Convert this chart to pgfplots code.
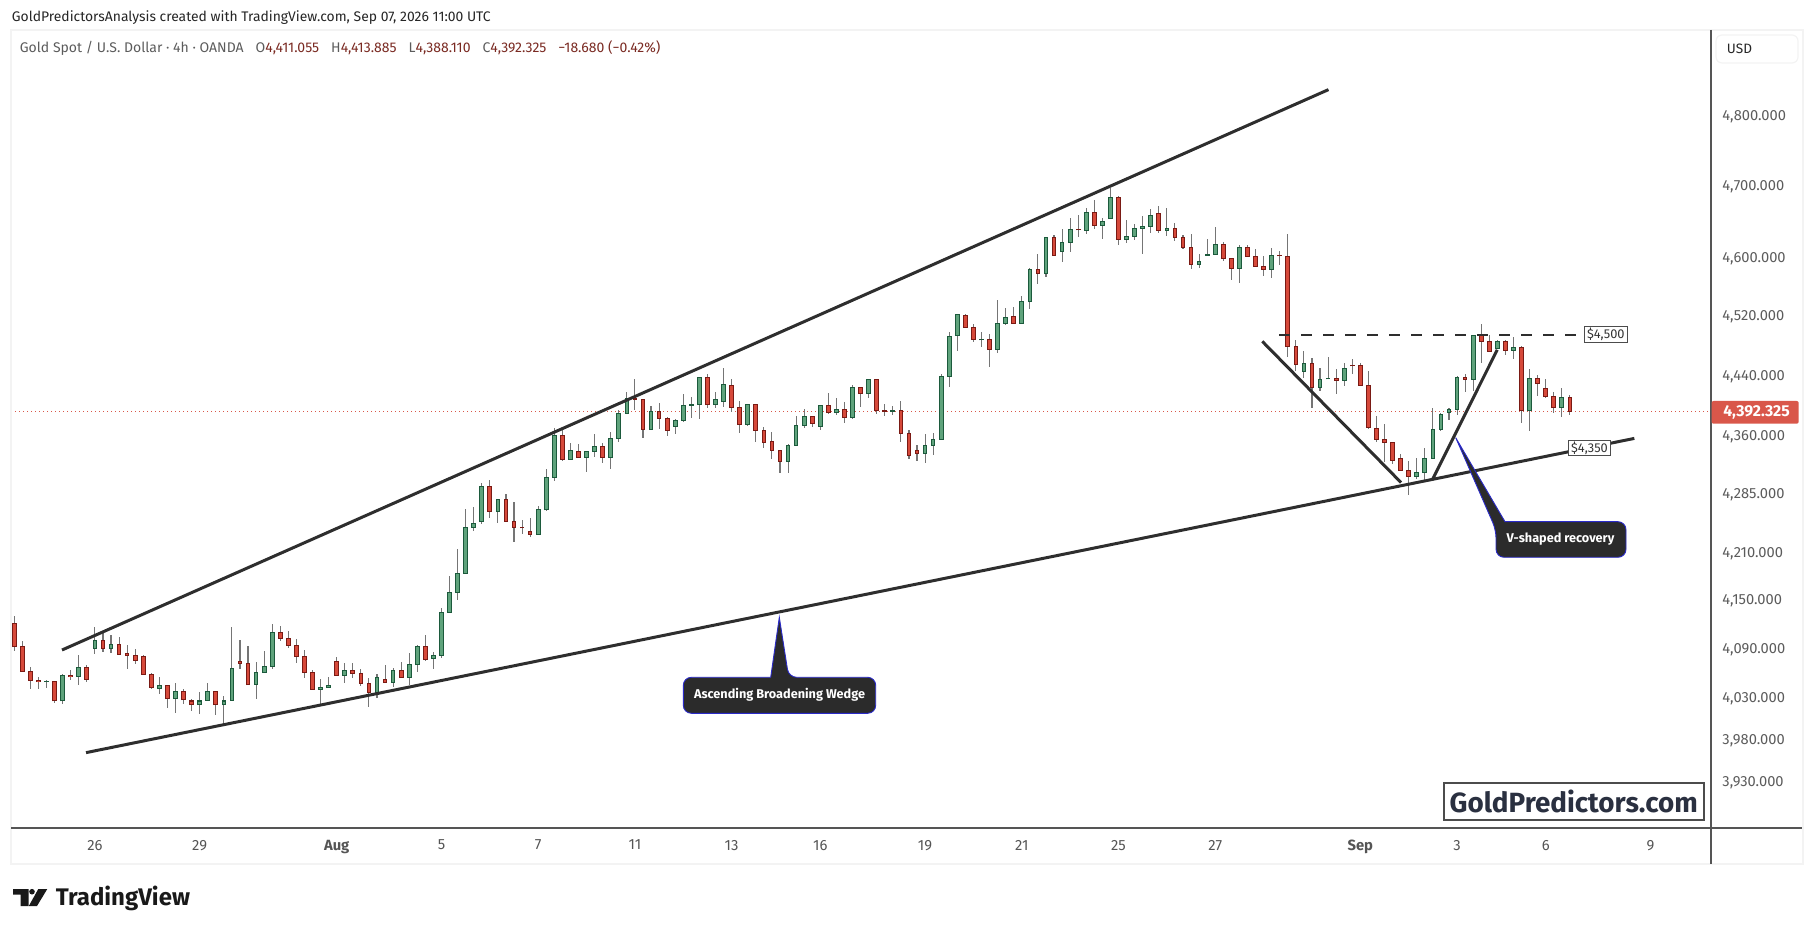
\documentclass[border=0pt]{standalone}
\usepackage{fontspec}
\setmainfont{Fira Sans}
\usepackage{pgfplots}
\usepackage{pgfplotstable}
\pgfplotsset{compat=1.18}
\definecolor{upfill}{HTML}{5FA37C}
\definecolor{upedge}{HTML}{1C5A3C}
\definecolor{dnfill}{HTML}{D6493A}
\definecolor{dnedge}{HTML}{7A1A14}
\definecolor{wick}{HTML}{757575}
\definecolor{tl}{HTML}{2E2E2E}
\definecolor{pane}{HTML}{F3F3F3}
\definecolor{scalec}{HTML}{555555}
\definecolor{lastp}{HTML}{D9574A}
\definecolor{lab}{HTML}{5C5C5C}
\definecolor{val}{HTML}{7A2A22}
\definecolor{callout}{HTML}{2B2B2B}
\definecolor{calledge}{HTML}{2A2AC8}
\pgfplotstableread{
i o h l c
4 4050.0 4052.0 4042.6 4050.8
6 4026.7 4059.0 4022.6 4057.8
8 4056.5 4082.7 4046.3 4067.6
10 4090.9 4117.1 4084.4 4100.7
12 4090.5 4107.3 4085.6 4095.8
18 4041.8 4055.3 4035.3 4045.5
20 4029.5 4048.4 4011.9 4038.1
23 4022.2 4038.1 4010.7 4026.7
24 4027.1 4048.4 4027.1 4038.1
26 4022.2 4033.2 3996.8 4026.7
27 4027.1 4117.1 4027.1 4066.4
30 4046.7 4073.7 4029.1 4061.5
31 4061.5 4087.7 4061.5 4068.8
32 4068.8 4120.8 4066.0 4110.6
38 4040.6 4053.7 4021.3 4043.1
39 4043.1 4055.3 4043.1 4045.5
41 4057.8 4072.5 4048.8 4063.9
45 4036.9 4059.0 4030.3 4055.3
47 4049.2 4066.4 4043.9 4063.9
49 4054.9 4085.2 4045.9 4071.3
50 4070.8 4094.7 4062.3 4093.4
52 4078.2 4086.4 4065.6 4082.4
53 4081.9 4141.3 4079.4 4135.2
54 4135.2 4180.7 4135.2 4160.0
55 4160.0 4214.8 4150.7 4184.1
56 4184.1 4265.4 4184.1 4242.3
57 4242.3 4268.0 4238.0 4247.3
58 4249.9 4299.9 4246.8 4294.7
60 4262.5 4279.0 4248.1 4277.7
65 4233.4 4269.2 4233.4 4265.0
66 4264.5 4316.8 4263.3 4306.4
67 4306.4 4371.6 4302.0 4361.2
69 4329.9 4351.1 4329.9 4341.6
71 4332.5 4340.3 4313.7 4340.3
72 4340.3 4362.9 4333.3 4346.8
74 4332.5 4365.1 4317.6 4357.3
75 4357.3 4395.1 4352.8 4389.9
76 4389.9 4418.9 4389.9 4409.5
79 4369.0 4400.3 4369.0 4392.5
82 4372.9 4383.3 4363.3 4380.7
83 4380.7 4416.2 4379.4 4400.3
84 4400.9 4411.2 4383.7 4401.6
85 4401.6 4438.0 4382.4 4437.7
87 4401.6 4418.9 4397.2 4408.1
88 4405.5 4450.2 4399.0 4428.3
91 4375.5 4401.6 4373.7 4401.6
96 4327.3 4349.4 4312.4 4348.1
97 4348.1 4387.2 4348.1 4374.2
98 4374.2 4396.4 4371.6 4385.9
100 4372.9 4401.6 4368.5 4400.3
102 4391.2 4410.8 4388.0 4395.1
104 4384.6 4428.3 4383.3 4424.3
106 4416.2 4435.0 4409.9 4435.0
109 4393.1 4400.3 4388.0 4393.8
113 4337.7 4362.5 4325.4 4348.1
114 4348.1 4363.8 4335.9 4356.0
115 4356.0 4443.1 4354.7 4439.1
116 4439.1 4499.5 4425.1 4492.8
117 4494.2 4523.7 4473.5 4522.4
120 4488.1 4498.2 4478.8 4488.8
122 4475.3 4541.6 4470.8 4510.3
123 4510.3 4531.8 4508.4 4518.3
125 4510.3 4548.1 4510.3 4539.9
126 4539.9 4585.5 4529.9 4584.1
128 4578.6 4628.4 4574.4 4628.4
130 4609.0 4640.8 4594.6 4621.5
131 4621.5 4656.1 4608.4 4639.4
133 4638.1 4669.9 4633.9 4663.0
135 4645.0 4656.1 4626.4 4650.7
136 4654.7 4698.1 4654.7 4683.9
138 4625.6 4653.3 4620.9 4629.8
139 4629.8 4647.8 4625.1 4640.8
140 4640.8 4658.8 4605.7 4643.6
141 4643.6 4668.5 4634.7 4658.8
143 4638.1 4669.9 4630.6 4640.8
147 4591.0 4604.8 4585.5 4595.2
148 4603.5 4627.0 4602.1 4604.8
149 4604.8 4643.6 4603.5 4618.7
152 4585.5 4617.3 4565.5 4614.5
156 4584.1 4614.5 4572.5 4603.5
160 4445.8 4472.7 4436.8 4456.5
162 4424.3 4449.8 4419.7 4435.0
163 4435.7 4464.6 4435.7 4436.4
165 4433.7 4456.5 4426.4 4449.8
174 4307.7 4331.2 4305.1 4312.9
175 4312.9 4344.2 4302.9 4331.2
176 4331.2 4397.7 4331.2 4369.0
177 4369.0 4391.2 4366.4 4388.6
178 4391.2 4397.7 4382.0 4395.1
179 4395.1 4439.1 4388.6 4437.7
181 4435.0 4494.6 4419.3 4494.2
184 4476.7 4487.4 4476.7 4486.1
186 4474.0 4491.5 4461.9 4478.0
188 4393.8 4448.5 4366.4 4436.4
192 4397.7 4424.3 4385.4 4410.8
}\upcandles
\pgfplotstableread{
i o h l c
0 4122.0 4131.0 4088.1 4093.0
1 4093.4 4099.9 4062.7 4062.7
2 4062.7 4067.6 4041.4 4051.6
3 4051.6 4055.3 4041.4 4050.0
5 4050.4 4050.4 4024.2 4026.7
7 4057.8 4064.3 4052.4 4056.1
9 4067.6 4070.5 4050.0 4052.9
11 4100.7 4112.2 4086.8 4090.5
13 4095.8 4104.8 4083.6 4083.6
14 4084.8 4095.0 4066.0 4081.9
15 4082.3 4090.1 4072.1 4075.8
16 4081.1 4082.7 4059.0 4059.0
17 4059.0 4060.2 4041.4 4043.1
19 4045.5 4046.3 4018.1 4029.5
21 4038.1 4041.8 4023.0 4028.3
22 4026.7 4029.5 4014.4 4022.2
25 4038.1 4038.1 4009.5 4022.2
28 4075.0 4101.2 4066.0 4072.5
29 4072.5 4093.8 4045.5 4046.3
33 4110.6 4118.0 4099.5 4103.2
34 4103.2 4112.2 4091.7 4094.6
35 4094.6 4102.4 4073.3 4081.1
36 4081.1 4088.9 4054.9 4061.5
37 4061.5 4063.9 4040.6 4040.6
40 4075.0 4080.3 4057.8 4057.8
42 4063.9 4072.5 4054.1 4060.2
43 4060.2 4065.1 4044.3 4048.0
44 4048.0 4054.1 4019.3 4036.9
46 4052.9 4070.5 4049.2 4049.2
48 4064.0 4074.2 4054.9 4054.9
51 4093.4 4107.3 4075.8 4077.0
59 4294.7 4303.8 4254.4 4262.5
61 4277.7 4284.6 4249.9 4249.9
62 4249.9 4275.2 4224.0 4242.3
63 4242.3 4251.1 4234.2 4241.6
64 4237.2 4254.0 4230.4 4233.4
68 4361.2 4367.7 4328.0 4329.9
70 4340.3 4349.8 4332.5 4332.5
73 4346.8 4351.1 4325.4 4332.5
77 4409.5 4435.4 4394.2 4409.0
78 4408.1 4408.1 4358.0 4369.0
80 4392.5 4404.2 4369.8 4383.3
81 4383.3 4385.9 4360.6 4367.7
86 4437.7 4442.1 4397.2 4401.6
89 4427.0 4435.4 4392.5 4397.7
90 4397.7 4406.8 4364.6 4375.5
92 4401.6 4401.6 4352.8 4367.7
93 4367.7 4372.9 4345.0 4352.0
94 4353.3 4365.1 4330.7 4341.6
95 4341.6 4341.6 4312.4 4327.3
99 4385.9 4385.9 4372.4 4376.8
101 4400.3 4416.6 4389.9 4391.2
103 4395.1 4405.5 4377.6 4384.6
105 4424.3 4425.6 4398.5 4416.2
107 4435.0 4436.4 4389.3 4393.8
108 4393.8 4402.9 4386.7 4393.1
110 4393.8 4406.8 4352.8 4363.8
111 4363.8 4369.0 4330.7 4335.1
112 4341.6 4348.1 4328.0 4337.7
118 4521.0 4523.7 4504.9 4504.9
119 4504.9 4510.3 4485.6 4488.8
121 4488.8 4495.5 4452.0 4475.3
124 4519.7 4533.5 4510.3 4510.3
127 4584.1 4605.3 4563.7 4578.6
129 4628.4 4632.5 4603.5 4603.5
132 4639.4 4660.2 4629.2 4638.8
134 4663.0 4681.0 4640.8 4645.0
137 4683.9 4686.7 4618.1 4625.6
142 4661.6 4672.7 4635.3 4638.1
144 4640.8 4649.1 4623.5 4628.4
145 4628.4 4632.5 4611.8 4614.5
146 4614.5 4633.9 4584.1 4591.0
150 4618.7 4621.5 4595.2 4599.3
151 4599.3 4600.7 4569.7 4585.5
153 4614.5 4617.3 4602.1 4602.1
154 4602.1 4611.8 4586.9 4588.2
155 4588.2 4602.1 4575.2 4584.1
157 4603.5 4610.4 4590.7 4602.8
158 4602.1 4632.9 4465.4 4479.4
159 4479.4 4487.4 4445.8 4455.2
161 4456.5 4463.2 4396.8 4424.3
164 4436.4 4448.5 4415.3 4433.7
166 4453.8 4461.9 4442.1 4453.2
167 4453.8 4456.5 4427.0 4427.0
168 4427.0 4445.8 4369.4 4371.6
169 4370.3 4387.2 4352.8 4356.0
170 4356.0 4375.5 4326.7 4352.0
171 4352.0 4352.0 4324.2 4328.6
172 4331.2 4336.4 4315.5 4315.5
173 4315.5 4327.3 4283.7 4307.7
180 4437.7 4443.1 4418.4 4435.0
182 4494.2 4510.3 4457.6 4486.1
183 4486.1 4494.2 4472.7 4472.7
185 4486.1 4487.4 4467.3 4474.0
187 4478.0 4479.4 4378.2 4393.8
189 4436.4 4440.4 4413.0 4429.6
190 4422.9 4435.0 4410.8 4412.2
191 4412.2 4418.9 4391.2 4397.7
193 4411.055 4413.885 4388.110 4392.325
}\downcandles
\begin{document}
\begin{tikzpicture}
\useasboundingbox (0,0) rectangle (907pt,466pt);
\begin{axis}[
  at={(5.5pt,52pt)}, anchor=south west,
  width=850pt, height=399pt, scale only axis,
  ymode=log,
  xmin=-0.409, xmax=210.51, ymin=3876.9, ymax=4926.6,
  axis line style={draw=none},
  major tick length=0pt, minor tick length=0pt,
  xtick pos=bottom, ytick pos=right, yticklabel pos=right,
  xtick={10,23,40,53,65,77,89,100,113,125,137,149,167,179,190,203},
  xticklabels={26,29,\textbf{Aug},5,7,11,13,16,19,21,25,27,\textbf{Sep},3,6,9},
  ytick={3930,3980,4030,4090,4150,4210,4285,4360,4440,4520,4600,4700,4800},
  yticklabels={{3,930.000},{3,980.000},{4,030.000},{4,090.000},{4,150.000},{4,210.000},{4,285.000},{4,360.000},{4,440.000},{4,520.000},{4,600.000},{4,700.000},{4,800.000}},
  yticklabel style={font=\fontsize{7.35pt}{9pt}\selectfont, text=lab, inner sep=0pt, xshift=5.5pt, yshift=-0.3pt},
  xticklabel style={font=\fontsize{7.4pt}{9pt}\selectfont, text=scalec, inner sep=0pt, yshift=-6pt},
  error bars/y dir=both, error bars/y explicit, error bars/error mark=none,
]
% last price line
\addplot[lastp, line width=0.5pt, dash pattern=on 0.5pt off 1.5pt, forget plot] coordinates {(-0.409,4392.325) (210.51,4392.325)};
% wicks
\addplot[draw=none, mark=none, error bars/error bar style={wick, line width=0.55pt}]
  table[x=i, y=o, y error plus expr={\thisrow{h}-\thisrow{o}}, y error minus expr={\thisrow{o}-\thisrow{l}}] {\upcandles};
\addplot[draw=none, mark=none, error bars/error bar style={wick, line width=0.55pt}]
  table[x=i, y=o, y error plus expr={\thisrow{h}-\thisrow{o}}, y error minus expr={\thisrow{o}-\thisrow{l}}] {\downcandles};
% body edges
\addplot[draw=none, mark=none, error bars/error bar style={upedge, line width=2.35pt}]
  table[x=i, y expr=\thisrow{o}*0.99988, y error plus expr={\thisrow{c}*1.00012-\thisrow{o}*0.99988}, y error minus expr=0] {\upcandles};
\addplot[draw=none, mark=none, error bars/error bar style={dnedge, line width=2.35pt}]
  table[x=i, y expr=\thisrow{c}*0.99988, y error plus expr={\thisrow{o}*1.00012-\thisrow{c}*0.99988}, y error minus expr=0] {\downcandles};
% body fills
\addplot[draw=none, mark=none, error bars/error bar style={upfill, line width=1.35pt}]
  table[x=i, y expr=\thisrow{o}*1.00018, y error plus expr={max(\thisrow{c}*0.99982-\thisrow{o}*1.00018,0)}, y error minus expr=0] {\upcandles};
\addplot[draw=none, mark=none, error bars/error bar style={dnfill, line width=1.35pt}]
  table[x=i, y expr=\thisrow{c}*1.00018, y error plus expr={max(\thisrow{o}*0.99982-\thisrow{c}*1.00018,0)}, y error minus expr=0] {\downcandles};
% drawn lines
\addplot[tl, line width=1.5pt] coordinates {(5.92,4088.9) (163.05,4838.7)};
\addplot[tl, line width=1.5pt] coordinates {(8.9,3965.2) (201.0,4357.3)};
\addplot[tl, line width=1.5pt] coordinates {(154.84,4486.1) (172.05,4299.9)};
\addplot[tl, line width=1.5pt] coordinates {(175.93,4303.3) (183.99,4474.8)};
\addplot[tl, line width=1.2pt, dash pattern=on 5.4pt off 5.6pt] coordinates {(156.91,4495) (193.72,4495)};
\end{axis}
\begin{scope}[x=0.5pt,y=-0.5pt,shift={(0pt,466pt)}]
% panes
\draw[pane, line width=1pt] (10.5,30) -- (10.5,864) -- (1803,864) -- (1803,30) -- cycle;
\draw[scalec, line width=0.55pt] (1711,30) -- (1711,864);
\draw[scalec, line width=0.55pt] (11,828) -- (1802,828);
% header
\node[anchor=west, inner sep=0pt, text=black!85, font=\fontsize{6.95pt}{9pt}\selectfont] at (11.5,18) {GoldPredictorsAnalysis created with TradingView.com, Sep 07, 2026 11:00 UTC};
\node[anchor=west, inner sep=0pt, text=lab, font=\fontsize{7pt}{9pt}\selectfont] at (19.5,48.5) {Gold Spot / U.S. Dollar · 4h · OANDA\hspace{6pt}O\textcolor{val}{4,411.055}\hspace{6pt}H\textcolor{val}{4,413.885}\hspace{6pt}L\textcolor{val}{4,388.110}\hspace{6pt}C\textcolor{val}{4,392.325}\hspace{6pt}\textcolor{val}{−18.680 (−0.42\%)}};
% USD
\draw[pane, line width=0.6pt, rounded corners=3pt, fill=white] (1716,35) rectangle (1798,63);
\node[anchor=west, inner sep=0pt, text=black!85, font=\fontsize{6.8pt}{8pt}\selectfont] at (1726.5,49) {USD};
% last price tag
\fill[lastp, rounded corners=1pt] (1711.5,401) rectangle (1798.7,423.7);
\node[inner sep=0pt, text=white, font=\fontsize{7.9pt}{9pt}\selectfont\bfseries] at (1756.5,412.3) {4,392.325};
% labels
\node[draw=black!70, line width=0.5pt, fill=white, minimum width=21.5pt, minimum height=7.8pt, inner sep=0pt, text=black!80, font=\fontsize{6.4pt}{7pt}\selectfont] at (1605.8,334.5) {\$4,500};
\node[draw=black!70, line width=0.5pt, fill=white, minimum width=21.2pt, minimum height=7.7pt, inner sep=0pt, text=black!80, font=\fontsize{6.4pt}{7pt}\selectfont] at (1589.5,448.3) {\$4,350};
% callouts
\draw[fill=callout, draw=calledge, line width=0.45pt, rounded corners=4pt] (770.7,677.3) -- (683.3,677.3) -- (683.3,713.3) -- (875.7,713.3) -- (875.7,677.3) -- (788.7,677.3) [sharp corners] -- (779.3,617.3) -- cycle;
\node[inner sep=0pt, text=white, font=\fontsize{6.35pt}{8pt}\selectfont\bfseries] at (779.5,695) {Ascending Broadening Wedge};
\draw[fill=callout, draw=calledge, line width=0.45pt, rounded corners=4pt] (1505,521.7) -- (1626,521.7) -- (1626,557.3) -- (1496,557.3) -- (1496,530) [sharp corners] -- (1455.7,437.7) -- cycle;
\node[inner sep=0pt, text=white, font=\fontsize{6.35pt}{8pt}\selectfont\bfseries] at (1560.5,539) {V-shaped recovery};
% watermark
\node[draw=black!70, line width=1pt, fill=white, minimum width=130pt, minimum height=18.6pt, inner sep=0pt, text={rgb,255:red,42;green,48;blue,64}, font=\fontsize{13.9pt}{18pt}\selectfont\bfseries] at (1573.7,801.8) {GoldPredictors.com};
% logo
\fill[black!90] (13,889) -- (28.5,889) -- (28.5,906) -- (20.7,906) -- (20.7,894.5) -- (13,894.5) -- cycle;
\fill[black!90] (32,891.7) circle[radius=2.8];
\fill[black!90] (38.3,889) -- (47.3,889) -- (37,906) -- (28.8,906) -- cycle;
\node[anchor=west, inner sep=0pt, text=black!90, font=\fontsize{12pt}{14pt}\selectfont\bfseries] at (55.5,898) {TradingView};
\end{scope}
\end{tikzpicture}
\end{document}
